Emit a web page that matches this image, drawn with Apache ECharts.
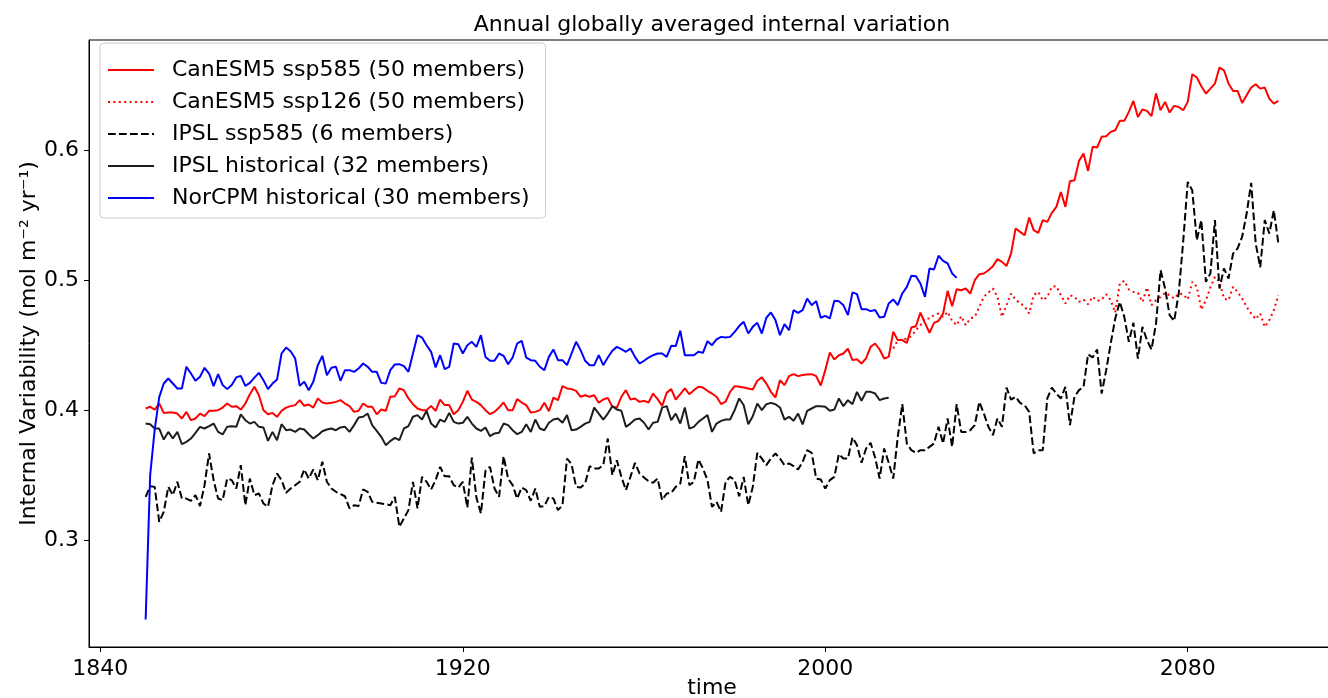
<!DOCTYPE html>
<html>
<head>
<meta charset="utf-8">
<script src="https://cdn.jsdelivr.net/npm/echarts@6/dist/echarts.min.js"></script>
<style>
html,body{margin:0;padding:0;background:#fff;}
#chart{width:1328px;height:698px;}
</style>
</head>
<body>
<div id="chart"></div>
<script>
// ---- data (annual values) ----
const canesm585Start = 1850;
const canesm585 = [
0.4013,0.4026,0.4005,0.4051,0.3979,0.3982,0.3982,0.3974,0.3936,0.3987,
0.3923,0.3936,0.3974,0.3954,0.3995,0.3995,0.4000,0.4020,0.4051,0.4026,
0.4031,0.4005,0.4051,0.4123,0.4180,0.4115,0.4000,0.3969,0.3979,0.3949,
0.3995,0.4020,0.4031,0.4039,0.4077,0.4034,0.4044,0.4020,0.4090,0.4059,
0.4051,0.4057,0.4064,0.4077,0.4051,0.4031,0.3987,0.3995,0.4051,0.4026,
0.4026,0.3969,0.4005,0.3995,0.4103,0.4108,0.4167,0.4154,0.4090,0.4046,
0.4013,0.4000,0.4000,0.4033,0.3995,0.4082,0.4039,0.4039,0.3969,0.4000,
0.4064,0.4149,0.4082,0.4064,0.4039,0.4000,0.3969,0.3987,0.4020,0.4059,
0.4000,0.4000,0.4085,0.4059,0.4039,0.3982,0.3987,0.4000,0.4057,0.3992,
0.4097,0.4077,0.4185,0.4167,0.4162,0.4149,0.4103,0.4115,0.4103,0.4115,
0.4057,0.4082,0.4095,0.4026,0.4020,0.4103,0.4154,0.4082,0.4090,0.4064,
0.4072,0.4059,0.4128,0.4085,0.4033,0.4133,0.4162,0.4082,0.4123,0.4167,
0.4123,0.4154,0.4180,0.4174,0.4149,0.4128,0.4103,0.4047,0.4065,0.4141,
0.4185,0.4180,0.4175,0.4167,0.4159,0.4226,0.4252,0.4205,0.4141,0.4098,
0.4231,0.4193,0.4262,0.4277,0.4262,0.4270,0.4275,0.4277,0.4262,0.4190,
0.4308,0.4444,0.4390,0.4423,0.4436,0.4474,0.4385,0.4392,0.4359,0.4398,
0.4487,0.4513,0.4467,0.4398,0.4410,
0.4603,0.4539,0.4539,0.4518,0.4636,
0.4646,0.4751,0.4672,0.4595,0.4672,0.4687,0.4744,0.4918,0.4800,0.4931,
0.4923,0.4936,0.4897,0.5000,0.5046,0.5051,0.5077,0.5108,0.5162,0.5141,
0.5110,0.5205,0.5398,0.5372,0.5346,0.5482,0.5385,0.5364,0.5462,0.5449,
0.5518,0.5564,0.5679,0.5564,0.5762,0.5769,0.5918,0.5974,0.5841,0.6026,
0.6021,0.6103,0.6108,0.6141,0.6154,0.6226,0.6226,0.6295,0.6379,0.6256,
0.6313,0.6303,0.6262,0.6436,0.6308,0.6372,0.6290,0.6341,0.6333,0.6308,
0.6372,0.6585,0.6559,0.6492,0.6436,0.6474,0.6513,0.6636,0.6615,0.6513,
0.6456,0.6456,0.6364,0.6423,0.6482,0.6508,0.6474,0.6482,0.6397,0.6359,
0.6379
];

const canesm126Start = 2015;
const canesm126 = [
0.4474,0.4538,0.4544,0.4551,0.4569,0.4615,0.4654,0.4705,0.4705,0.4731,
0.4744,0.4718,0.4756,0.4687,0.4654,0.4723,0.4654,0.4705,0.4718,0.4795,
0.4872,0.4905,0.4936,0.4872,0.4718,0.4808,0.4897,0.4851,0.4821,0.4800,
0.4744,0.4885,0.4910,0.4846,0.4872,0.4949,0.4954,0.4885,0.4821,0.4885,
0.4872,0.4833,0.4851,0.4815,0.4872,0.4841,0.4851,0.4892,0.4846,0.4750,
0.4974,0.4995,0.4928,0.4910,0.4903,0.4833,0.4944,0.4808,0.4846,0.4872,
0.4903,0.4885,0.4859,0.4897,0.4892,0.4851,0.4987,0.4949,0.4774,0.4846,
0.4944,0.5026,0.4987,0.4859,0.4846,0.4949,0.4910,0.4859,0.4795,0.4744,
0.4700,0.4744,0.4641,0.4692,0.4769,0.4885
];

const ipsl585Start = 1850;
const ipsl585 = [
0.3333,0.3415,0.3410,0.3141,0.3218,0.3410,0.3346,0.3449,0.3320,0.3320,
0.3303,0.3346,0.3262,0.3423,0.3667,0.3462,0.3320,0.3308,0.3474,0.3462,
0.3397,0.3577,0.3269,0.3474,0.3346,0.3359,0.3282,0.3256,0.3423,0.3513,
0.3462,0.3364,0.3397,0.3423,0.3449,0.3544,0.3474,0.3544,0.3462,0.3603,
0.3449,0.3397,0.3372,0.3354,0.3338,0.3244,0.3269,0.3262,0.3390,0.3372,
0.3295,0.3287,0.3282,0.3277,0.3269,0.3333,0.3103,0.3167,0.3231,0.3449,
0.3244,0.3487,0.3449,0.3390,0.3462,0.3564,0.3492,0.3492,0.3423,0.3405,
0.3449,0.3251,0.3636,0.3328,0.3205,0.3533,0.3564,0.3397,0.3333,0.3646,
0.3474,0.3423,0.3320,0.3405,0.3385,0.3303,0.3397,0.3256,0.3262,0.3333,
0.3320,0.3231,0.3269,0.3628,0.3585,0.3410,0.3405,0.3436,0.3569,0.3551,
0.3551,0.3577,0.3782,0.3500,0.3615,0.3487,0.3385,0.3487,0.3595,0.3513,
0.3482,0.3454,0.3441,0.3474,0.3308,0.3359,0.3364,0.3410,0.3436,0.3646,
0.3423,0.3449,0.3621,0.3551,0.3462,0.3256,0.3295,0.3218,0.3449,0.3487,
0.3462,0.3338,0.3487,0.3269,0.3410,0.3672,0.3628,0.3577,0.3628,0.3667,
0.3628,0.3577,0.3590,0.3570,0.3544,0.3603,0.3692,0.3672,0.3474,0.3467,
0.3397,0.3462,0.3487,0.3662,0.3628,0.3628,0.3790,0.3731,0.3595,0.3705,
0.3749,0.3636,0.3474,0.3705,0.3595,0.3474,0.3795,0.4046,0.3744,0.3692,
0.3672,0.3692,0.3692,0.3718,0.3744,0.3872,0.3744,0.3936,0.3718,0.4046,
0.3833,0.3833,0.3846,0.3885,0.4064,0.3974,0.3872,0.3808,0.3936,0.3872,
0.4174,0.4082,0.4103,0.4056,0.4038,0.3987,0.3667,0.3692,0.3692,0.4090,
0.4174,0.4128,0.4090,0.4179,0.3885,0.4103,0.4154,0.4179,0.4430,0.4405,
0.4467,0.4128,0.4308,0.4513,0.4705,0.4833,0.4718,0.4526,0.4672,0.4397,
0.4641,0.4538,0.4467,0.4667,0.5077,0.4936,0.4731,0.4687,0.4897,0.5300,
0.5756,0.5690,0.5308,0.5462,0.4987,0.5051,0.5462,0.4936,0.5090,0.5013,
0.5205,0.5244,0.5333,0.5513,0.5749,0.5282,0.5100,0.5462,0.5359,0.5538,
0.5282
];

const ipslHistStart = 1850;
const ipslHist = [
0.3897,0.3892,0.3859,0.3859,0.3774,0.3833,0.3782,0.3833,0.3738,0.3756,
0.3782,0.3826,0.3872,0.3859,0.3877,0.3897,0.3833,0.3813,0.3872,0.3877,
0.3872,0.3967,0.3923,0.3897,0.3910,0.3872,0.3867,0.3764,0.3833,0.3769,
0.3892,0.3846,0.3851,0.3833,0.3859,0.3851,0.3815,0.3782,0.3808,0.3838,
0.3851,0.3859,0.3846,0.3867,0.3872,0.3833,0.3885,0.3944,0.3949,0.3974,
0.3885,0.3841,0.3795,0.3731,0.3762,0.3787,0.3769,0.3859,0.3877,0.3949,
0.3962,0.3928,0.3995,0.3897,0.3867,0.3928,0.3910,0.3979,0.3910,0.3897,
0.3903,0.3949,0.3897,0.3859,0.3841,0.3867,0.3800,0.3821,0.3826,0.3897,
0.3885,0.3846,0.3815,0.3833,0.3892,0.3833,0.3928,0.3859,0.3846,0.3903,
0.3928,0.3936,0.3903,0.3962,0.3846,0.3851,0.3872,0.3897,0.3910,0.4020,
0.3974,0.3928,0.3974,0.4031,0.4005,0.3995,0.3872,0.3897,0.3928,0.3936,
0.3903,0.3851,0.3903,0.3910,0.4020,0.4031,0.3923,0.3974,0.3897,0.4020,
0.3859,0.3872,0.3910,0.3936,0.3962,0.3833,0.3897,0.3918,0.3928,0.3928,
0.4000,0.4090,0.4038,0.3892,0.3954,0.4051,0.4000,0.4046,0.4056,0.4046,
0.4021,0.3928,0.3949,0.3918,0.3974,0.3890,0.3995,0.4013,0.4031,0.4031,
0.4026,0.3995,0.4005,0.4090,0.4031,0.4077,0.4046,0.4141,0.4072,0.4141,
0.4141,0.4128,0.4077,0.4090,0.4095
];

const norcpmStart = 1850;
const norcpm = [
0.2390,0.3500,0.3850,0.4100,0.4205,0.4244,0.4205,0.4167,0.4167,0.4334,
0.4282,0.4226,0.4257,0.4326,0.4282,0.4185,0.4277,0.4193,0.4162,0.4193,
0.4252,0.4264,0.4187,0.4210,0.4250,0.4287,0.4231,0.4162,0.4205,0.4236,
0.4436,0.4482,0.4454,0.4398,0.4187,0.4218,0.4154,0.4218,0.4346,0.4418,
0.4269,0.4326,0.4334,0.4226,0.4308,0.4308,0.4295,0.4321,0.4359,0.4334,
0.4295,0.4295,0.4210,0.4205,0.4308,0.4352,0.4354,0.4339,0.4295,0.4436,
0.4577,0.4559,0.4500,0.4449,0.4329,0.4423,0.4316,0.4334,0.4513,0.4508,
0.4436,0.4500,0.4526,0.4487,0.4577,0.4410,0.4380,0.4380,0.4436,0.4418,
0.4354,0.4405,0.4513,0.4534,0.4405,0.4385,0.4380,0.4334,0.4308,0.4410,
0.4467,0.4385,0.4385,0.4346,0.4436,0.4526,0.4462,0.4380,0.4346,0.4346,
0.4423,0.4346,0.4405,0.4457,0.4487,0.4469,0.4449,0.4475,0.4410,0.4359,
0.4380,0.4405,0.4423,0.4436,0.4436,0.4410,0.4495,0.4493,0.4611,0.4423,
0.4423,0.4423,0.4449,0.4441,0.4531,0.4500,0.4544,0.4564,0.4559,0.4564,
0.4603,0.4647,0.4680,0.4590,0.4641,0.4672,0.4590,0.4711,0.4752,0.4693,
0.4577,0.4662,0.4615,0.4770,0.4749,0.4770,0.4859,0.4808,0.4839,0.4711,
0.4726,0.4706,0.4841,0.4839,0.4808,0.4731,0.4906,0.4893,0.4777,0.4777,
0.4762,0.4770,0.4713,0.4718,0.4821,0.4852,0.4808,0.4898,0.4949,0.5034,
0.5031,0.4975,0.4872,0.5090,0.5082,0.5188,0.5149,0.5129,0.5052,0.5018
];

const xTicks = [1840, 1920, 2000, 2080];
const yTicks = [0.3, 0.4, 0.5, 0.6];
const seriesNames = [
  'CanESM5 ssp585 (50 members)',
  'CanESM5 ssp126 (50 members)',
  'IPSL ssp585 (6 members)',
  'IPSL historical (32 members)',
  'NorCPM historical (30 members)'
];
const titleText = 'Annual globally averaged internal variation';
const xName = 'time';
const yName = 'Internal Variability (mol m\u207B\u00B2 yr\u207B\u00B9)';

// ---- build ----
function pairs(start, vals) { return vals.map((v, i) => [start + i, v]); }
const FONT = 'DejaVu Sans';

const chart = echarts.init(document.getElementById('chart'), null, {renderer: 'canvas'});
const lw = 2;
chart.setOption({
  animation: false,
  backgroundColor: '#ffffff',
  textStyle: {fontFamily: FONT},
  title: {
    text: titleText,
    left: 712, top: 14, textAlign: 'center', padding: 0,
    textStyle: {fontSize: 22, fontWeight: 'normal', color: '#000', fontFamily: FONT}
  },
  grid: {left: 89, top: 40, width: 1246, height: 607, show: true,
         outerBoundsMode: 'none', containLabel: false,
         borderColor: '#000', borderWidth: 1, backgroundColor: 'transparent'},
  legend: {
    orient: 'vertical', left: 100, top: 43,
    padding: [14, 16, 7, 7],
    itemWidth: 46, itemHeight: 14, itemGap: 6,
    backgroundColor: 'rgba(255,255,255,0.8)', borderColor: '#cccccc', borderWidth: 1, borderRadius: 4,
    itemStyle: {opacity: 0},
    textStyle: {fontSize: 22, color: '#000', fontFamily: FONT, lineHeight: 26, padding: [0, 0, 0, 13]},
    data: seriesNames
  },
  xAxis: {
    type: 'value', min: 1837.5, max: 2112.5,
    name: xName, nameLocation: 'middle', nameGap: 30, nameMoveOverlap: false,
    nameTextStyle: {fontSize: 22, color: '#000', fontFamily: FONT},
    axisLine: {show: true, onZero: false, lineStyle: {color: '#000', width: 1}},
    axisTick: {show: true, inside: false, length: 5, customValues: xTicks, lineStyle: {color: '#000', width: 1}},
    axisLabel: {customValues: xTicks, margin: 11, fontSize: 22, color: '#000', fontFamily: FONT,
                formatter: v => String(v)},
    splitLine: {show: false}
  },
  yAxis: {
    type: 'value', min: 0.2178, max: 0.6848,
    name: yName, nameLocation: 'middle', nameGap: 49, nameRotate: 90, nameMoveOverlap: false,
    nameTextStyle: {fontSize: 22, color: '#000', fontFamily: FONT},
    axisLine: {show: true, onZero: false, lineStyle: {color: '#000', width: 1}},
    axisTick: {show: true, inside: false, length: 5, customValues: yTicks, lineStyle: {color: '#000', width: 1}},
    axisLabel: {customValues: yTicks, margin: 10, fontSize: 22, color: '#000', fontFamily: FONT,
                formatter: v => Number(v).toFixed(1)},
    splitLine: {show: false}
  },
  series: [
    {name: seriesNames[0], type: 'line', data: pairs(canesm585Start, canesm585), showSymbol: false, symbol: 'none',
     lineStyle: {color: '#ff0000', width: lw}, itemStyle: {color: '#ff0000'}},
    {name: seriesNames[1], type: 'line', data: pairs(canesm126Start, canesm126), showSymbol: false, symbol: 'none',
     lineStyle: {color: '#ff0000', width: lw, type: [2, 3.4]}, itemStyle: {color: '#ff0000'}},
    {name: seriesNames[2], type: 'line', data: pairs(ipsl585Start, ipsl585), showSymbol: false, symbol: 'none',
     lineStyle: {color: '#000000', width: lw, type: [7.7, 3.3]}, itemStyle: {color: '#000000'}},
    {name: seriesNames[3], type: 'line', data: pairs(ipslHistStart, ipslHist), showSymbol: false, symbol: 'none',
     lineStyle: {color: '#1e1e1e', width: lw}, itemStyle: {color: '#1e1e1e'}},
    {name: seriesNames[4], type: 'line', data: pairs(norcpmStart, norcpm), showSymbol: false, symbol: 'none',
     lineStyle: {color: '#0000ff', width: lw}, itemStyle: {color: '#0000ff'}}
  ]
});
</script>
</body>
</html>
